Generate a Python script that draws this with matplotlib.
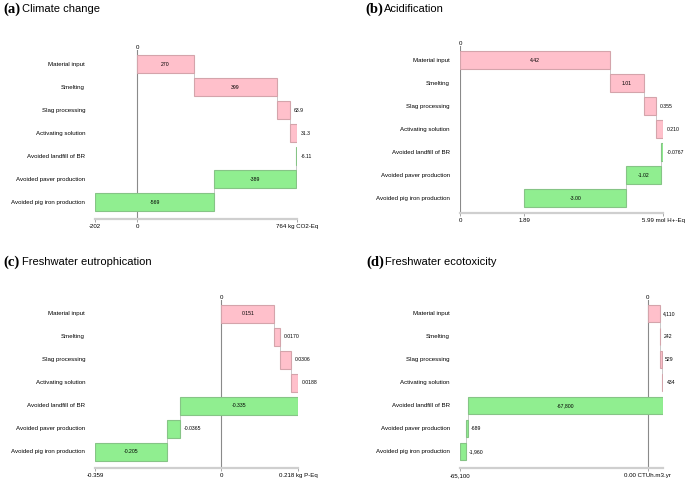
import numpy as np
import matplotlib
matplotlib.use("Agg")
import matplotlib.pyplot as plt

plt.rcParams['font.family'] = ['Liberation Sans', 'DejaVu Sans']

categories = ["Material input", "Smelting", "Slag processing", "Activating solution",
              "Avoided landfill of BR", "Avoided paver production", "Avoided pig iron production"]

climate = [270, 399, 63.9, 31.3, -6.11, -389, -569]
climate_lbl = ["270", "399", "63.9", "31.3", "-6.11", "-389", "-569"]
acid = [4.42, 1.01, 0.355, 0.210, -0.0767, -1.02, -3.00]
acid_lbl = ["4.42", "1.01", "0.355", "0.210", "-0.0767", "-1.02", "-3.00"]
eutro = [0.151, 0.0170, 0.0306, 0.0188, -0.335, -0.0365, -0.205]
eutro_lbl = ["0.151", "0.0170", "0.0306", "0.0188", "-0.335", "-0.0365", "-0.205"]
ecotox = [4110, 242, 529, 434, -67800, -689, -1960]
ecotox_lbl = ["4,110", "242", "529", "434", "-67,800", "-689", "-1,960"]

# axis limits and bottom ticks as printed on the chart
climate_ticks = [-202, 0, 764]
climate_ticklbl = ["-202", "0", "764 kg CO2-Eq"]
acid_ticks = [0, 1.89, 5.99]
acid_ticklbl = ["0", "1.89", "5.99 mol H+-Eq"]
eutro_ticks = [-0.359, 0, 0.218]
eutro_ticklbl = ["-0.359", "0", "0.218 kg P-Eq"]
ecotox_ticks = [-65100, 0]
ecotox_ticklbl = ["-65,100", "0.00 CTUh.m3.yr"]
ecotox_max = 5315

W, H = 685, 479
fig = plt.figure(figsize=(W / 100, H / 100), dpi=100)

PINK, PINK_E = "#ffc0cb", "#d4a4ab"
GREEN, GREEN_E = "#90ee90", "#86c486"


def panel(rect_px, row0, vals, lbls, xlim, ticks, ticklbls, letter, title, title_xy, lab_right):
    left, right, top, axis_y = rect_px
    ax = fig.add_axes([left / W, (H - axis_y) / H, (right - left) / W, (axis_y - top) / H])
    step = 23.0
    ax.set_ylim((axis_y - row0) / step, (top - row0) / step)
    ax.set_xlim(*xlim)
    span = xlim[1] - xlim[0]

    ends = np.cumsum(vals)
    starts = ends - np.array(vals)
    y = np.arange(len(vals))
    for i in range(len(vals)):
        pos = vals[i] >= 0
        ax.barh(y[i], vals[i], left=starts[i], height=0.77,
                color=PINK if pos else GREEN, edgecolor=PINK_E if pos else GREEN_E,
                linewidth=0.8, zorder=3)
        if i < len(vals) - 1:
            ax.plot([ends[i], ends[i]], [y[i] + 0.385, y[i + 1] - 0.385],
                    color="#c8c8c8", lw=0.7, zorder=2)
        if abs(vals[i]) / span > 0.1:
            ax.text((starts[i] + ends[i]) / 2, y[i], lbls[i], ha="center", va="center",
                    fontsize=3.7, zorder=4)
        else:
            xr = max(starts[i], ends[i])
            ax.annotate(lbls[i], (xr, y[i]), xytext=(2.5, 0), textcoords="offset points",
                        ha="left", va="center", fontsize=3.7, zorder=4)

    ax.axvline(0, color="#8a8a8a", lw=0.8, zorder=1)
    ax.text(0, ax.get_ylim()[1], "0", ha="center", va="bottom", fontsize=4.4)

    ax.set_yticks(y)
    ax.set_yticklabels([])
    for i, c in enumerate(categories):
        ax.text((lab_right - left) / (right - left), y[i], c, transform=ax.get_yaxis_transform(),
                ha="right", va="center", fontsize=4.4)
    ax.tick_params(axis="y", length=0)

    ax.set_xticks(ticks)
    ax.set_xticklabels(ticklbls, fontsize=4.4)
    ax.tick_params(axis="x", length=2, width=0.6, color="#999999", pad=1.5)
    for s in ["top", "left", "right"]:
        ax.spines[s].set_visible(False)
    ax.spines["bottom"].set_color("#cfcfcf")
    ax.spines["bottom"].set_linewidth(1.6)

    tx, ty = title_xy
    fig.text(tx / W, 1 - ty / H, letter, family="Liberation Serif", weight="bold",
             fontsize=10.5, va="center", ha="left")
    fig.text((tx + 19) / W, 1 - ty / H, title, fontsize=8, va="center", ha="left")
    return ax


panel((95, 297, 50, 219), 64.3, climate, climate_lbl, (-202, 764),
      climate_ticks, climate_ticklbl, "(a)", "Climate change", (3, 9), 85)
panel((460, 663, 46, 213), 60.3, acid, acid_lbl, (0, 5.99),
      acid_ticks, acid_ticklbl, "(b)", "Acidification", (365, 9), 450)
panel((95, 298, 300, 468), 313.7, eutro, eutro_lbl, (-0.359, 0.218),
      eutro_ticks, eutro_ticklbl, "(c)", "Freshwater eutrophication", (3, 262), 85)
panel((460, 663, 300, 468), 313.5, ecotox, ecotox_lbl, (-65100, ecotox_max),
      ecotox_ticks, ecotox_ticklbl, "(d)", "Freshwater ecotoxicity", (366, 262), 450)

fig.savefig("out.png", dpi=100)
